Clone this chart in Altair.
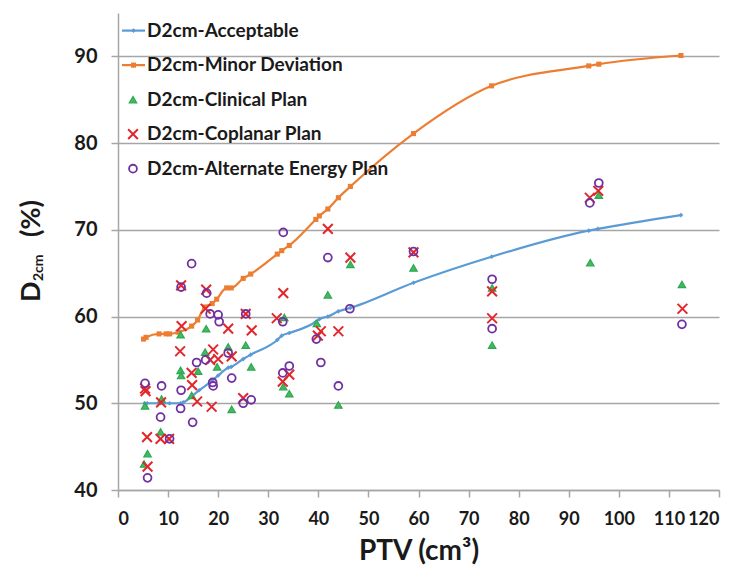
import altair as alt
import pandas as pd

# ---------------- data ----------------
acc_x = [5.3, 5.8, 8.5, 10.3, 12.5, 13.0, 16.2, 18.8, 20.0, 22.0, 22.6, 25.0, 26.5,
         31.8, 32.7, 34.2, 39.5, 40.2, 41.9, 44.0, 46.4, 59.0, 74.6, 94.0, 95.8, 112.4]
acc_y = [50.0, 50.0, 50.0, 50.0, 50.0, 50.1, 51.5, 52.6, 53.2, 54.1, 54.2, 55.1, 55.6,
         57.3, 57.8, 58.1, 59.4, 59.7, 60.0, 60.6, 61.0, 63.9, 66.9, 69.9, 70.1, 71.7]

minor_x = [5.1, 5.6, 8.2, 9.6, 10.3, 12.0, 14.7, 15.9, 17.3, 18.8, 19.7, 21.7, 22.6, 25.0,
           26.5, 31.8, 32.7, 34.2, 39.5, 40.2, 41.9, 44.0, 46.4, 59.0, 74.6, 94.0, 96.0, 112.4]
minor_y = [57.4, 57.6, 58.0, 58.0, 58.0, 58.2, 58.9, 59.6, 61.1, 61.5, 62.0, 63.3, 63.3, 64.4,
           64.9, 67.2, 67.6, 68.2, 71.2, 71.6, 72.4, 73.7, 75.0, 81.1, 86.6, 88.9, 89.1, 90.1]

clin_x = [5.4, 5.9, 5.2, 8.5, 8.7, 12.5, 12.5, 12.6, 14.7, 16.0, 17.6, 17.4, 19.8, 22.0, 22.7,
          25.5, 26.6, 33.0, 33.2, 34.2, 39.7, 41.9, 44.0, 46.4, 59.0, 74.7, 74.7, 94.3, 96.0, 112.6]
clin_y = [49.7, 44.2, 43.0, 46.7, 50.5, 57.9, 53.8, 53.2, 50.9, 53.7, 58.6, 55.9, 54.2, 56.5, 49.3,
          56.7, 54.2, 51.9, 59.9, 51.1, 59.2, 62.5, 49.8, 66.0, 65.6, 56.7, 63.3, 66.2, 74.0, 63.7]

copl_x = [5.4, 5.5, 5.8, 5.9, 8.6, 8.5, 10.2, 12.6, 12.7, 12.4, 14.7, 14.8, 15.8, 17.6, 17.5,
          19.0, 18.4, 18.7, 20.0, 22.0, 22.7, 25.0, 25.5, 26.7, 31.7, 33.0, 32.9, 34.2, 39.9,
          40.5, 41.9, 44.0, 46.4, 59.0, 74.7, 74.7, 94.2, 95.9, 112.7]
copl_y = [51.7, 51.4, 46.1, 42.7, 50.1, 45.9, 45.9, 63.6, 58.9, 56.0, 53.5, 52.1, 50.2, 63.1, 60.9,
          56.2, 55.0, 49.6, 55.1, 58.6, 55.4, 50.6, 60.3, 58.4, 59.8, 62.7, 52.5, 53.3, 57.8,
          58.3, 70.1, 58.3, 66.8, 67.4, 62.9, 59.8, 73.7, 74.5, 60.9]

alt_x = [5.4, 5.9, 8.7, 8.5, 10.3, 12.6, 12.6, 12.5, 14.7, 14.9, 15.7, 17.7, 18.4, 17.5, 18.9,
         19.0, 20.0, 20.2, 22.0, 22.7, 25.0, 25.5, 26.6, 32.9, 33.0, 32.9, 34.2, 39.6, 40.5,
         41.9, 44.0, 46.3, 59.0, 74.7, 74.7, 94.2, 96.0, 112.6]
alt_y = [52.3, 41.4, 52.0, 48.4, 45.9, 63.4, 51.5, 49.4, 66.1, 47.8, 54.7, 62.7, 60.3, 55.0, 52.4,
         52.0, 60.2, 59.4, 55.8, 52.9, 50.0, 60.3, 50.4, 59.4, 69.7, 53.5, 54.3, 57.4, 54.7,
         66.8, 52.0, 60.9, 67.5, 64.3, 58.6, 73.1, 75.4, 59.1]

series_names = ["D2cm-Acceptable", "D2cm-Minor Deviation", "D2cm-Clinical Plan",
                "D2cm-Coplanar Plan", "D2cm-Alternate Energy Plan"]
x_ticks = list(range(0, 121, 10))
y_ticks = [40, 50, 60, 70, 80, 90]

BLUE = "#5B9BD5"
ORANGE = "#ED7D31"
GREEN = "#2EA84F"
GREEN_FILL = "#45B865"
RED = "#E3262B"
PURPLE = "#7030A0"
FONT = "Lato"
TXT = "#1a1a1a"
XPATH = "M-1,-1L1,1M1,-1L-1,1"


def frame(xs, ys):
    return pd.DataFrame({"ptv": xs, "d2": ys})


x_enc = alt.X("ptv:Q", scale=alt.Scale(domain=[0, 120], nice=False, zero=False),
              axis=alt.Axis(values=x_ticks, title="PTV (cm³)", grid=False, labelOverlap=False,
                            tickSize=7, labelPadding=13, titlePadding=9,
                            labelFontSize=18, titleFontSize=28))
y_enc = alt.Y("d2:Q", scale=alt.Scale(domain=[40, 95], nice=False, zero=False),
              axis=alt.Axis(values=y_ticks, title=None, grid=True, labelOverlap=False,
                            tickSize=7, labelPadding=14, labelFontSize=20))

acc_line = alt.Chart(frame(acc_x, acc_y)).mark_line(
    color=BLUE, strokeWidth=2.2, interpolate="monotone").encode(x=x_enc, y=y_enc)
acc_pts = alt.Chart(frame(acc_x, acc_y)).mark_point(
    shape="diamond", filled=True, color=BLUE, size=22, opacity=1).encode(x=x_enc, y=y_enc)
min_line = alt.Chart(frame(minor_x, minor_y)).mark_line(
    color=ORANGE, strokeWidth=2.2, interpolate="monotone").encode(x=x_enc, y=y_enc)
min_pts = alt.Chart(frame(minor_x, minor_y)).mark_point(
    shape="square", filled=True, color=ORANGE, size=26, opacity=1).encode(x=x_enc, y=y_enc)
clin_pts = alt.Chart(frame(clin_x, clin_y)).mark_point(
    shape="triangle-up", filled=True, fill=GREEN_FILL, stroke=GREEN, strokeWidth=1.2,
    size=55, opacity=1).encode(x=x_enc, y=y_enc)
copl_pts = alt.Chart(frame(copl_x, copl_y)).mark_point(
    shape=XPATH, filled=False, color=RED, strokeWidth=2, size=95, opacity=1).encode(x=x_enc, y=y_enc)
alt_pts = alt.Chart(frame(alt_x, alt_y)).mark_point(
    shape="circle", filled=False, color=PURPLE, strokeWidth=1.8, size=62, opacity=1).encode(x=x_enc, y=y_enc)

data_layers = alt.layer(acc_line, min_line, acc_pts, min_pts, clin_pts, copl_pts, alt_pts)

# ---------------- legend (manual, inside the plot) ----------------
leg_df = pd.DataFrame({"label": series_names})
leg_y = alt.Y("label:N", scale=alt.Scale(type="point", domain=series_names,
                                         range=[17.6, 155.7], padding=0), axis=None)
leg_base = alt.Chart(leg_df)
leg_text = leg_base.mark_text(align="left", baseline="middle", font=FONT, fontWeight="bold",
                              fontSize=19, color=TXT).encode(
    x=alt.value(29), y=leg_y, text="label:N")
leg_rule_b = leg_base.transform_filter(alt.datum.label == series_names[0]).mark_rule(
    color=BLUE, strokeWidth=2.2).encode(x=alt.value(4), x2=alt.value(27), y=leg_y)
leg_pt_b = leg_base.transform_filter(alt.datum.label == series_names[0]).mark_point(
    shape="diamond", filled=True, color=BLUE, size=22, opacity=1).encode(x=alt.value(15.5), y=leg_y)
leg_rule_o = leg_base.transform_filter(alt.datum.label == series_names[1]).mark_rule(
    color=ORANGE, strokeWidth=2.2).encode(x=alt.value(4), x2=alt.value(27), y=leg_y)
leg_pt_o = leg_base.transform_filter(alt.datum.label == series_names[1]).mark_point(
    shape="square", filled=True, color=ORANGE, size=26, opacity=1).encode(x=alt.value(15.5), y=leg_y)
leg_pt_g = leg_base.transform_filter(alt.datum.label == series_names[2]).mark_point(
    shape="triangle-up", filled=True, fill=GREEN_FILL, stroke=GREEN, strokeWidth=1.2,
    size=55, opacity=1).encode(x=alt.value(15), y=leg_y)
leg_pt_r = leg_base.transform_filter(alt.datum.label == series_names[3]).mark_point(
    shape=XPATH, filled=False, color=RED, strokeWidth=2, size=95, opacity=1).encode(x=alt.value(15), y=leg_y)
leg_pt_p = leg_base.transform_filter(alt.datum.label == series_names[4]).mark_point(
    shape="circle", filled=False, color=PURPLE, strokeWidth=1.8, size=62, opacity=1).encode(x=alt.value(15), y=leg_y)

legend_layers = alt.layer(leg_rule_b, leg_pt_b, leg_rule_o, leg_pt_o, leg_pt_g, leg_pt_r,
                          leg_pt_p, leg_text)

# ---------------- y-axis title with subscript ----------------
one = pd.DataFrame({"a": [0]})
yt_D = alt.Chart(one).mark_text(angle=270, align="left", baseline="alphabetic", font=FONT,
                                fontWeight="bold", fontSize=27, color=TXT).encode(
    x=alt.value(-78), y=alt.value(289), text=alt.value("D"))
yt_sub = alt.Chart(one).mark_text(angle=270, align="left", baseline="alphabetic", font=FONT,
                                  fontWeight="bold", fontSize=14, color=TXT).encode(
    x=alt.value(-75), y=alt.value(268), text=alt.value("2cm"))
yt_pct = alt.Chart(one).mark_text(angle=270, align="left", baseline="alphabetic", font=FONT,
                                  fontWeight="bold", fontSize=27, color=TXT).encode(
    x=alt.value(-78), y=alt.value(224), text=alt.value("(%)"))

chart = alt.layer(
    data_layers, legend_layers, yt_D, yt_sub, yt_pct,
).resolve_scale(y="independent").properties(
    width=601, height=477,
    autosize=alt.AutoSizeParams(type="none"),
    padding={"left": 110, "top": 5, "right": 29, "bottom": 87},
    background="white",
).configure_view(stroke=None).configure_axis(
    labelFont=FONT, titleFont=FONT, labelFontWeight="bold", titleFontWeight="bold",
    labelColor=TXT, titleColor=TXT, domainColor="#A6A6A6", tickColor="#A6A6A6",
    gridColor="#A6A6A6", gridWidth=1.5, domainWidth=1.5, tickWidth=1.5,
)

chart.save("out.html", embed_options={"renderer": "svg", "actions": False})
